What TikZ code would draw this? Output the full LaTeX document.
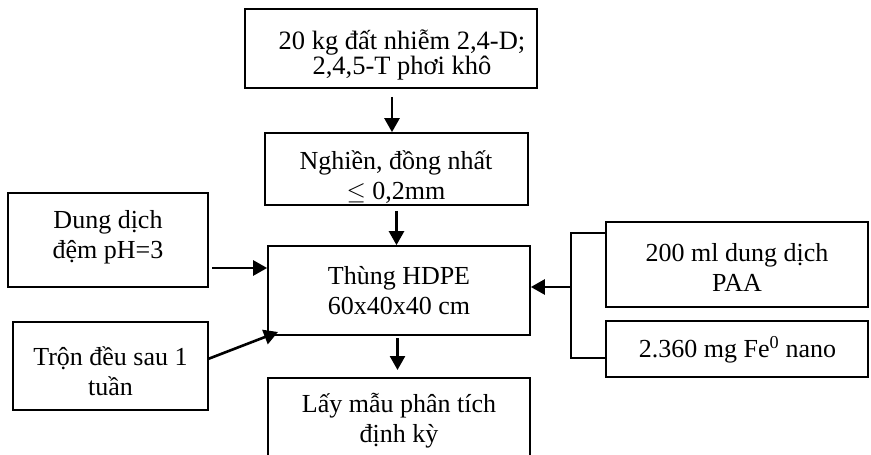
\documentclass[tikz,border=0pt]{standalone}
\usepackage{fontspec}
\setmainfont{Liberation Serif}
\usetikzlibrary{arrows.meta,calc}
\begin{document}
\begin{tikzpicture}[x=1pt,y=-1pt,
  box/.style={draw, line width=1.7pt, rectangle, inner sep=0pt},
  txt/.style={align=center, font=\fontsize{26}{30}\selectfont, inner sep=0pt},
  arr/.style={line width=2.6pt, -{Triangle[length=14pt,width=15pt]}},
  link/.style={line width=2pt}]
\useasboundingbox (0,0) rectangle (871,455);
\clip (0,0) rectangle (871,455);
% boxes
\node[box, minimum width=292pt, minimum height=79pt] (n1) at (391,48.5) {};
\node[txt, font=\fontsize{26.5}{25.5}\selectfont] (n1t) at (402,55) {20 kg đất nhiễm 2,4-D;\\2,4,5-T phơi khô};
\node[box, minimum width=263pt, minimum height=72pt] (n2) at (396.5,169) {};
\node[txt] (n2t) at (396,177) {Nghiền, đồng nhất\\$\leq$ 0,2mm};
\node[box, minimum width=262pt, minimum height=89pt] (n3) at (399,290.5) {};
\node[txt] (n3t) at (399,290.5) {Thùng HDPE\\60x40x40 cm};
\node[box, minimum width=262pt, minimum height=90pt] (n4) at (399,423) {};
\node[txt] (n4t) at (399,420.5) {Lấy mẫu phân tích\\định kỳ};
\node[box, minimum width=200pt, minimum height=94pt] (l1) at (108,240) {};
\node[txt] (l1t) at (108,237) {Dung dịch\\đệm pH=3};
\node[box, minimum width=195pt, minimum height=88pt] (l2) at (110.5,366) {};
\node[txt] (l2t) at (110.5,371.5) {Trộn đều sau 1\\tuần};
\node[box, minimum width=262pt, minimum height=85pt] (r1) at (737,264.5) {};
\node[txt] (r1t) at (737,267) {200 ml dung dịch\\PAA};
\node[box, minimum width=262pt, minimum height=56pt] (r2) at (737,349) {};
\node[txt] (r2t) at (737.5,349.5) {2.360 mg Fe\textsuperscript{0} nano};
% bracket
\coordinate (bt) at (571,233);
\coordinate (bb) at (571,358);
\coordinate (bm) at (571,287);
\draw[link] (r1.west |- bt) -- (bt) -- (bb) -- (r2.west |- bb);
% arrows
\draw[arr] ([xshift=1pt,yshift=-8pt]n1.south) -- ([xshift=1pt]n1.south |- n2.north);
\draw[arr] ([yshift=-5pt]n2.south) -- (n2.south |- n3.north);
\coordinate (a3s) at (397.5,338);
\coordinate (a3e) at (397.5,370);
\draw[arr] (a3s) -- (a3e);
\coordinate (l1a) at (212,268);
\draw[arr] (l1a) -- (l1a -| n3.west);
\coordinate (l2a) at (208,359);
\coordinate (l2e) at (278,332);
\draw[arr] (l2a) -- (l2e);
\draw[arr] (bm) -- (bm -| n3.east);
\end{tikzpicture}
\end{document}
